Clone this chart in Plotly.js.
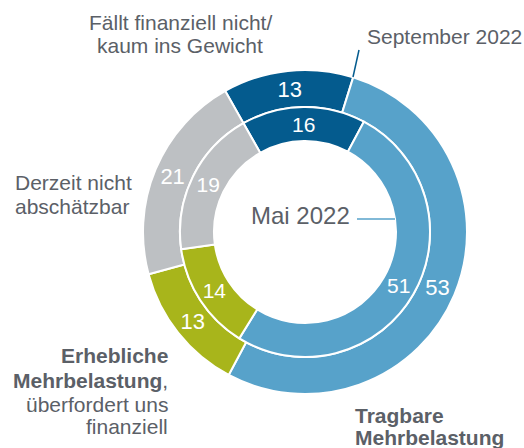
<!DOCTYPE html>
<html>
<head>
<meta charset="utf-8">
<script src="https://cdn.plot.ly/plotly-3.0.1.min.js"></script>
<style>
html,body{margin:0;padding:0;background:#fff;}
#chart{width:524px;height:448px;}
</style>
</head>
<body>
<div id="chart"></div>
<script>
// Categories (clockwise from the top-left start)
const categories = [
  "Fällt finanziell nicht/kaum ins Gewicht",
  "Tragbare Mehrbelastung",
  "Erhebliche Mehrbelastung, überfordert uns finanziell",
  "Derzeit nicht abschätzbar"
];
const september2022 = [13, 53, 13, 21];
const mai2022 = [16, 51, 14, 19];
const colors = ["#045b8e", "#57a2ca", "#a8b51b", "#bdc0c3"];

const W = 524, H = 448;
const FONT = "Liberation Sans, Arial, sans-serif";
const TXT = "#5b6067";
const cx = 305, cy = 232, rOuter = 162, rMid = 125, rHole = 91;

function dom(r) {
  return {
    x: [(cx - r) / W, (cx + r) / W],
    y: [(H - cy - r) / H, (H - cy + r) / H]
  };
}

const common = {
  type: "pie",
  labels: categories,
  sort: false,
  direction: "clockwise",
  rotation: -29.5,
  textinfo: "value",
  textposition: "inside",
  insidetextorientation: "horizontal",
  marker: {colors: colors, line: {color: "#ffffff", width: 2}},
  hoverinfo: "label+value",
  showlegend: false
};

const traces = [
  Object.assign({}, common, {
    name: "September 2022",
    values: september2022,
    domain: dom(rOuter),
    hole: rMid / rOuter,
    textfont: {family: FONT, size: 22, color: "#ffffff"}
  }),
  Object.assign({}, common, {
    name: "Mai 2022",
    values: mai2022,
    domain: dom(rMid),
    hole: rHole / rMid,
    textfont: {family: FONT, size: 21, color: "#ffffff"}
  })
];

function ann(text, px, py, xanchor, size, bold) {
  return {
    xref: "paper", yref: "paper",
    x: px / W, y: 1 - py / H,
    xanchor: xanchor, yanchor: "middle",
    text: bold ? "<b>" + text + "</b>" : text,
    showarrow: false,
    font: {family: FONT, size: size || 21, color: TXT}
  };
}

const annotations = [
  ann("Fällt finanziell nicht/", 180, 23, "center"),
  ann("kaum ins Gewicht", 180, 45, "center"),
  ann("September 2022", 365, 36, "left"),
  ann("Derzeit nicht", 13, 183, "left"),
  ann("abschätzbar", 13, 206, "left"),
  ann("Mai 2022", 352, 215, "right", 24),
  ann("Erhebliche", 170, 355, "right", 21, true),
  ann("<b>Mehrbelastung</b>,", 170, 380, "right"),
  ann("überfordert uns", 170, 404, "right"),
  ann("finanziell", 170, 426, "right"),
  ann("Tragbare", 353, 415, "left", 21, true),
  ann("Mehrbelastung", 353, 437, "left", 21, true)
];

const shapes = [
  {type: "line", xref: "paper", yref: "paper",
   x0: 359 / W, y0: 1 - 50 / H, x1: 353 / W, y1: 1 - 77 / H,
   line: {color: "#045b8e", width: 1.5}},
  {type: "line", xref: "paper", yref: "paper",
   x0: 357 / W, y0: 1 - 219 / H, x1: 395 / W, y1: 1 - 219 / H,
   line: {color: "#57a2ca", width: 1.5}}
];

const layout = {
  width: W, height: H,
  margin: {l: 0, r: 0, t: 0, b: 0},
  paper_bgcolor: "#ffffff",
  plot_bgcolor: "#ffffff",
  showlegend: false,
  annotations: annotations,
  shapes: shapes,
  font: {family: FONT}
};

Plotly.newPlot("chart", traces, layout, {displayModeBar: false, staticPlot: true});
</script>
</body>
</html>
